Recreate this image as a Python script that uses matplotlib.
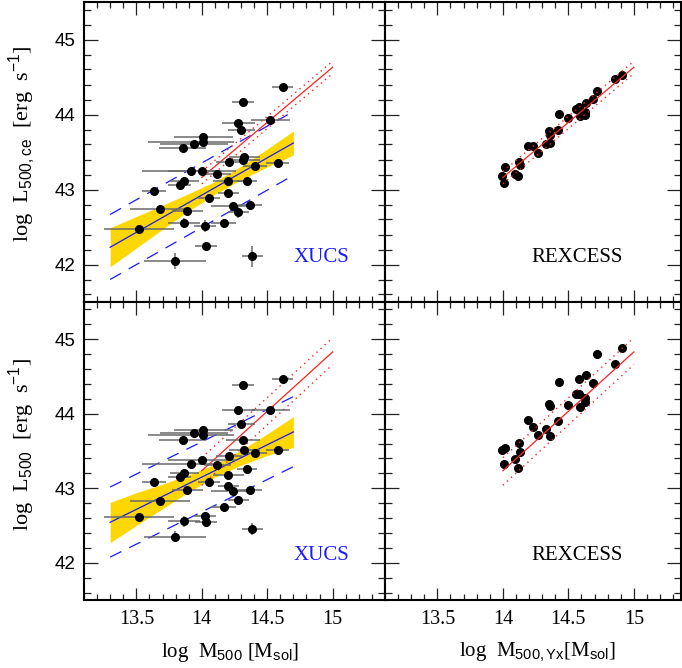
import numpy as np
import matplotlib
matplotlib.use("Agg")
import matplotlib.pyplot as plt
from matplotlib.ticker import MultipleLocator

plt.rcParams['font.family'] = ['Liberation Serif', 'DejaVu Serif']
plt.rcParams['mathtext.fontset'] = 'custom'
plt.rcParams['mathtext.rm'] = 'Liberation Sans'
plt.rcParams['mathtext.it'] = 'Liberation Sans:italic'

# ---------------- XUCS data (left panels) ----------------
xucs_logM = [14.617, 14.316, 14.525, 14.278, 14.303, 14.01, 14.01, 13.94, 13.853, 14.21,
             14.316, 14.325, 14.58, 14.405, 13.92, 14.005, 14.12, 14.204, 14.346, 13.866,
             13.83, 13.636, 14.204, 14.054, 13.68, 13.89, 14.235, 14.367, 14.28, 13.863,
             14.026, 14.169, 14.03, 13.797, 14.387, 13.52]
xucs_xerr_lo = [0.083, 0.085, 0.146, 0.127, 0.10, 0.225, 0.42, 0.26, 0.18, 0.10,
                0.13, 0.12, 0.09, 0.09, 0.38, 0.26, 0.10, 0.115, 0.075, 0.11,
                0.09, 0.093, 0.08, 0.085, 0.23, 0.12, 0.165, 0.09, 0.08, 0.12,
                0.085, 0.095, 0.083, 0.235, 0.083, 0.27]
xucs_xerr_hi = [0.083, 0.085, 0.146, 0.127, 0.10, 0.225, 0.24, 0.26, 0.18, 0.10,
                0.13, 0.12, 0.09, 0.09, 0.20, 0.26, 0.10, 0.115, 0.075, 0.11,
                0.09, 0.093, 0.08, 0.085, 0.23, 0.12, 0.165, 0.09, 0.08, 0.12,
                0.085, 0.095, 0.083, 0.235, 0.083, 0.27]
xucs_logLce = [44.364, 44.169, 43.93, 43.889, 43.787, 43.70, 43.63, 43.61, 43.55, 43.37,
               43.40, 43.43, 43.356, 43.31, 43.25, 43.24, 43.21, 43.11, 43.107, 43.11,
               43.06, 42.98, 42.956, 42.89, 42.74, 42.71, 42.78, 42.79, 42.70, 42.556,
               42.507, 42.547, 42.244, 42.05, 42.107, 42.48]
xucs_yerr_ce = [0.03, 0.03, 0.03, 0.03, 0.03, 0.03, 0.03, 0.03, 0.03, 0.03,
                0.03, 0.03, 0.03, 0.03, 0.03, 0.03, 0.03, 0.03, 0.03, 0.03,
                0.03, 0.03, 0.03, 0.03, 0.03, 0.05, 0.03, 0.03, 0.08, 0.07,
                0.08, 0.04, 0.03, 0.11, 0.14, 0.05]
xucs_logL = [44.467, 44.387, 44.053, 44.044, 43.867, 43.787, 43.72, 43.742, 43.653, 43.43,
             43.653, 43.52, 43.507, 43.467, 43.329, 43.377, 43.307, 43.173, 43.253, 43.209,
             43.156, 43.089, 43.031, 43.084, 42.831, 42.973, 42.964, 42.973, 42.84, 42.556,
             42.631, 42.751, 42.547, 42.351, 42.453, 42.617]
xucs_yerr = [0.03, 0.03, 0.03, 0.03, 0.03, 0.03, 0.03, 0.03, 0.03, 0.03,
             0.03, 0.03, 0.03, 0.03, 0.03, 0.03, 0.03, 0.03, 0.03, 0.03,
             0.03, 0.03, 0.03, 0.03, 0.03, 0.03, 0.03, 0.03, 0.04, 0.07,
             0.05, 0.04, 0.04, 0.07, 0.08, 0.04]

# XUCS fit lines and confidence band
xucs_fit_x = [13.3, 14.7]
xucs_fit_ce = [42.23, 43.62]
xucs_fit_ce_up = [42.667, 44.04]
xucs_fit_ce_lo = [41.80, 43.19]
xucs_fit = [42.543, 43.756]
xucs_fit_up = [43.017, 44.23]
xucs_fit_lo = [42.076, 43.29]

band_x = [13.3, 13.5, 13.7, 13.9, 14.1, 14.3, 14.5, 14.7]
band_ce_lo = [41.97, 42.22, 42.47, 42.715, 42.935, 43.13, 43.30, 43.46]
band_ce_hi = [42.49, 42.64, 42.79, 42.945, 43.105, 43.31, 43.54, 43.78]
band_lo = [42.27, 42.50, 42.725, 42.95, 43.15, 43.31, 43.44, 43.55]
band_hi = [42.81, 42.94, 43.055, 43.18, 43.32, 43.51, 43.73, 43.96]

# ---------------- REXCESS data (right panels) ----------------
rex_logM = [14.011, 13.993, 14.016, 14.092, 14.113, 14.125, 14.13, 14.194, 14.232, 14.27,
            14.329, 14.36, 14.352, 14.36, 14.418, 14.428, 14.50, 14.558, 14.583, 14.589,
            14.583, 14.627, 14.627, 14.634, 14.69, 14.716, 14.856, 14.907]
rex_logLce = [43.089, 43.178, 43.30, 43.213, 43.178, 43.369, 43.333, 43.578, 43.578, 43.489,
              43.609, 43.622, 43.778, 43.733, 43.787, 44.013, 43.947, 44.067, 44.102, 43.978,
              44.08, 44.036, 44.0, 44.156, 44.20, 44.32, 44.48, 44.533]
rex_logL = [43.329, 43.52, 43.542, 43.396, 43.267, 43.609, 43.489, 43.92, 43.818, 43.711,
            43.80, 43.698, 44.129, 44.107, 43.907, 44.422, 44.111, 44.267, 44.267, 44.084,
            44.467, 44.209, 44.156, 44.516, 44.409, 44.80, 44.662, 44.889]

rex_fit_x = [14.0, 15.0]
rex_fit_ce = [43.16, 44.63]
rex_fit_ce_up = [43.24, 44.71]
rex_fit_ce_lo = [43.076, 44.547]
rex_fit = [43.235, 44.83]
rex_fit_up = [43.41, 45.02]
rex_fit_lo = [43.04, 44.66]

x_ticks = [13.5, 14, 14.5, 15]
x_ticklabels = ['13.5', '14', '14.5', '15']
y_ticks = [42, 43, 44, 45]
y_ticklabels = ['42', '43', '44', '45']

# ---------------- figure ----------------
W, H = 682, 668
fig = plt.figure(figsize=(W / 100, H / 100), dpi=100)

def fx(px):
    return px / W

def fy(py):
    return 1 - py / H

ax_tl = fig.add_axes([fx(84), fy(302), fx(385) - fx(84), fy(2) - fy(302)])
ax_tr = fig.add_axes([fx(385), fy(302), fx(681) - fx(385), fy(2) - fy(302)])
ax_bl = fig.add_axes([fx(84), fy(600), fx(385) - fx(84), fy(302) - fy(600)])
ax_br = fig.add_axes([fx(385), fy(600), fx(681) - fx(385), fy(302) - fy(600)])

gold = '#FFD700'
ebcol = '#6a6a6a'

def style(ax, xlim, show_x, show_y):
    ax.set_xlim(*xlim)
    ax.set_ylim(41.5, 45.5)
    ax.set_xticks(x_ticks)
    ax.set_yticks(y_ticks)
    ax.xaxis.set_minor_locator(MultipleLocator(0.1))
    ax.yaxis.set_minor_locator(MultipleLocator(0.2))
    ax.tick_params(which='both', direction='in', top=True, right=True, colors='#222222')
    ax.tick_params(axis='y', which='major', length=10, width=0.9)
    ax.tick_params(axis='y', which='minor', length=5, width=0.9)
    ax.tick_params(axis='x', which='major', length=9, width=0.9)
    ax.tick_params(axis='x', which='minor', length=4.3, width=0.9)
    for s in ax.spines.values():
        s.set_linewidth(1.5)
        s.set_color('black')
    if show_x:
        ax.set_xticklabels(x_ticklabels, fontsize=14.5, family='Liberation Serif')
        ax.tick_params(axis='x', pad=7, labelcolor='black')
    else:
        ax.set_xticklabels([])
    if show_y:
        ax.set_yticklabels(y_ticklabels, fontsize=13.5, family='Liberation Sans')
        ax.tick_params(axis='y', pad=6, labelcolor='black')
    else:
        ax.set_yticklabels([])

def xucs_panel(ax, y, yerr, fit, fit_up, fit_lo, blo, bhi, rfit, rup, rlo):
    ax.fill_between(band_x, blo, bhi, color=gold, lw=0, zorder=1)
    ax.plot(xucs_fit_x, fit, color='#1a1aff', lw=0.9, zorder=2)
    ax.plot(xucs_fit_x, fit_up, color='#1a1aff', lw=0.9, dashes=(10, 7), zorder=2)
    ax.plot(xucs_fit_x, fit_lo, color='#1a1aff', lw=0.9, dashes=(10, 7), zorder=2)
    ax.plot(rex_fit_x, rfit, color='#ff2020', lw=0.9, zorder=2)
    ax.plot(rex_fit_x, rup, color='#ff2020', lw=1.0, ls=(0, (1, 3)), zorder=2)
    ax.plot(rex_fit_x, rlo, color='#ff2020', lw=1.0, ls=(0, (1, 3)), zorder=2)
    ax.errorbar(xucs_logM, y, xerr=[xucs_xerr_lo, xucs_xerr_hi], yerr=yerr,
                fmt='none', ecolor=ebcol, elinewidth=1.1, capsize=0, zorder=3)
    ax.plot(xucs_logM, y, 'o', color='black', ms=5.5, mec='black', zorder=4)
    ax.text(0.79, 0.15, 'XUCS', color='#1a1aff', fontsize=15, transform=ax.transAxes,
            ha='center', va='center', family='Liberation Serif')

def rex_panel(ax, y, rfit, rup, rlo):
    ax.plot(rex_logM, y, 'o', color='black', ms=5.5, mec='black', zorder=3)
    ax.plot(rex_fit_x, rfit, color='#ff2020', lw=0.9, zorder=4)
    ax.plot(rex_fit_x, rup, color='#ff2020', lw=1.0, ls=(0, (1, 3)), zorder=4)
    ax.plot(rex_fit_x, rlo, color='#ff2020', lw=1.0, ls=(0, (1, 3)), zorder=4)
    ax.text(0.65, 0.15, 'REXCESS', color='black', fontsize=15, transform=ax.transAxes,
            ha='center', va='center', family='Liberation Serif')

xucs_panel(ax_tl, xucs_logLce, xucs_yerr_ce, xucs_fit_ce, xucs_fit_ce_up, xucs_fit_ce_lo,
           band_ce_lo, band_ce_hi, rex_fit_ce, rex_fit_ce_up, rex_fit_ce_lo)
xucs_panel(ax_bl, xucs_logL, xucs_yerr, xucs_fit, xucs_fit_up, xucs_fit_lo,
           band_lo, band_hi, rex_fit, rex_fit_up, rex_fit_lo)
rex_panel(ax_tr, rex_logLce, rex_fit_ce, rex_fit_ce_up, rex_fit_ce_lo)
rex_panel(ax_br, rex_logL, rex_fit, rex_fit_up, rex_fit_lo)

style(ax_tl, (13.1, 15.4), False, True)
style(ax_bl, (13.1, 15.4), True, True)
style(ax_tr, (13.1, 15.36), False, False)
style(ax_br, (13.1, 15.36), True, False)

fig.text(fx(22), fy(144), r'log  L$_{\mathrm{500,ce}}$  [erg  s$^{\mathrm{-1}}$]', rotation=90,
         ha='center', va='center', fontsize=16)
fig.text(fx(22), fy(445), r'log  L$_{\mathrm{500}}$  [erg  s$^{\mathrm{-1}}$]', rotation=90,
         ha='center', va='center', fontsize=16)
fig.text(fx(230), fy(652), r'log  M$_{\mathrm{500}}$ [M$_{\mathrm{sol}}$]',
         ha='center', va='center', fontsize=15)
fig.text(fx(537), fy(652), r'log  M$_{\mathrm{500,Yx}}$[M$_{\mathrm{sol}}$]',
         ha='center', va='center', fontsize=15)

fig.savefig('out.png', dpi=100)
